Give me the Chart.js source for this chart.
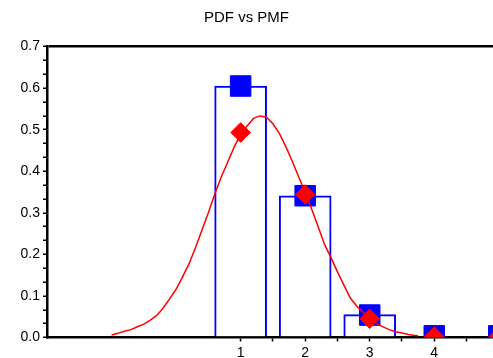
<!DOCTYPE html>
<html>
<head>
<meta charset="utf-8">
<title>PDF vs PMF</title>
<script src="https://cdn.jsdelivr.net/npm/chart.js@4.4.1/dist/chart.umd.min.js"></script>
<style>
    body { margin: 0; background: #fff; overflow: hidden; }
    canvas { display: block; }
</style>
</head>
<body>
<canvas id="myChart" width="493" height="358"></canvas>
<script>
// probability mass at each k
const pmfK = [1, 2, 3, 4, 5];
const pmfValues = [0.605, 0.341, 0.054, 0.004, 0.004];
// bars only stand above the axis for k = 1..3
const barK = [1, 2, 3];
const barValues = [0.605, 0.341, 0.055];
// density evaluated at k
const pdfAtK = [0.493, 0.344, 0.045, 0.002, 0.002];
// density curve
const curveX = [-1.0, -0.9, -0.8, -0.7, -0.6, -0.5, -0.4, -0.3, -0.2, -0.1,
    0.0, 0.1, 0.2, 0.3, 0.4, 0.5, 0.6, 0.7, 0.8, 0.9,
    1.0, 1.1, 1.2, 1.3, 1.4, 1.5, 1.6, 1.7, 1.8, 1.9,
    2.0, 2.1, 2.2, 2.3, 2.4, 2.5, 2.6, 2.7, 2.8, 2.9,
    3.0, 3.1, 3.2, 3.3, 3.4, 3.5, 3.6, 3.7, 3.75];
const curveY = [0.006, 0.010, 0.015, 0.019, 0.026, 0.032, 0.042, 0.053, 0.071, 0.093,
    0.116, 0.146, 0.177, 0.216, 0.258, 0.300, 0.345, 0.386, 0.422, 0.458,
    0.489, 0.509, 0.527, 0.533, 0.530, 0.514, 0.491, 0.459, 0.424, 0.386,
    0.349, 0.309, 0.267, 0.224, 0.192, 0.158, 0.126, 0.095, 0.075, 0.060,
    0.046, 0.034, 0.026, 0.019, 0.014, 0.011, 0.007, 0.005, 0.004];
// axis ticks
const xTicks = [1, 1.5, 2, 2.5, 3, 3.5, 4, 4.5];
const xLabels = ['1', '', '2', '', '3', '', '4', ''];
const yMax = 0.7;
const yMinorPerMajor = 3;

function points(xs, ys) {
    return xs.map((x, i) => ({x: x, y: ys[i]}));
}

Chart.defaults.font.family = '"Liberation Sans", Arial, sans-serif';
Chart.defaults.font.size = 14;
Chart.defaults.color = '#000';

const ctx = document.getElementById('myChart');
new Chart(ctx, {
    type: 'scatter',
    data: {
        datasets: [
            {
                type: 'line',
                label: 'PDF at k',
                data: points(pmfK, pdfAtK),
                showLine: false,
                pointStyle: 'rectRot',
                pointRadius: 9.8,
                pointBorderWidth: 1,
                pointBackgroundColor: '#ff0000',
                pointBorderColor: '#ff0000',
                clip: {left: 0, top: false, right: false, bottom: 0},
                order: 0
            },
            {
                type: 'line',
                label: 'PDF',
                data: points(curveX, curveY),
                borderColor: '#ff0000',
                borderWidth: 1.5,
                pointRadius: 0,
                tension: 0,
                order: 1
            },
            {
                type: 'line',
                label: 'PMF',
                data: points(pmfK, pmfValues),
                showLine: false,
                pointStyle: 'rect',
                pointRadius: 14.5,
                pointBorderWidth: 1,
                pointBackgroundColor: '#0000ff',
                pointBorderColor: '#0000ff',
                clip: {left: 0, top: false, right: false, bottom: 0},
                order: 2
            },
            {
                type: 'bar',
                label: 'PMF bars',
                data: points(barK, barValues),
                backgroundColor: '#fff',
                borderColor: '#0000ff',
                borderWidth: 2,
                borderSkipped: 'bottom',
                barThickness: 52,
                order: 3
            }
        ]
    },
    options: {
        responsive: false,
        animation: false,
        devicePixelRatio: 1,
        layout: {autoPadding: false, padding: 0},
        plugins: {
            legend: {display: false},
            tooltip: {enabled: false},
            title: {
                display: true,
                text: 'PDF vs PMF',
                color: '#000',
                font: {size: 15, weight: 'normal'},
                padding: {top: 9, bottom: 19.5}
            }
        },
        scales: {
            x: {
                type: 'linear',
                position: 'bottom',
                offset: false,
                min: -2,
                max: 4.91,
                afterFit: scale => {
                    scale.height = 20.5;
                    scale.paddingLeft = 0;
                    scale.paddingRight = 0;
                },
                afterBuildTicks: scale => {
                    scale.ticks = xTicks.map(v => ({value: v}));
                },
                ticks: {
                    autoSkip: false,
                    maxRotation: 0,
                    padding: 3,
                    callback: (value, index) => xLabels[index]
                },
                grid: {
                    offset: false,
                    drawOnChartArea: false,
                    tickLength: 4,
                    tickColor: '#000',
                    tickWidth: 1.5
                },
                border: {color: '#000', width: 2.5}
            },
            y: {
                min: 0,
                max: yMax,
                afterFit: scale => { scale.width = 47; },
                afterBuildTicks: scale => {
                    const ticks = [];
                    const n = Math.round(yMax * 10 * yMinorPerMajor);
                    for (let i = 0; i <= n; i++)
                        ticks.push({value: i / (10 * yMinorPerMajor)});
                    scale.ticks = ticks;
                },
                ticks: {
                    autoSkip: false,
                    padding: 3,
                    callback: (value, index) => index % yMinorPerMajor === 0 ? value.toFixed(1) : ''
                },
                grid: {
                    tickLength: 4,
                    tickColor: '#000',
                    tickWidth: 1.5,
                    lineWidth: 2.5,
                    color: c => c.tick && Math.abs(c.tick.value - yMax) < 1e-9 ? '#000' : 'rgba(0,0,0,0)'
                },
                border: {color: '#000', width: 2.5}
            }
        }
    }
});
</script>
</body>
</html>
